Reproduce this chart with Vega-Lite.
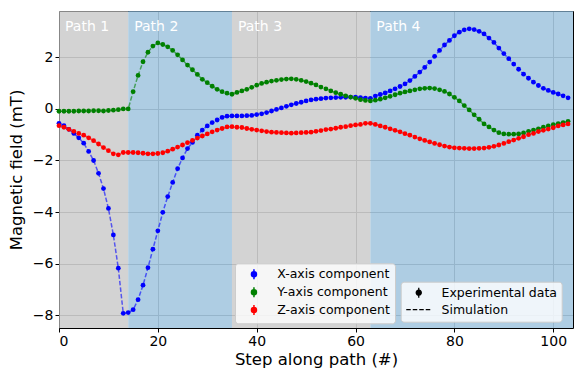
{
"$schema": "https://vega.github.io/schema/vega-lite/v6.json",
"width": 514, "height": 317,
"autosize": {"type": "none"},
"padding": {"left": 59, "top": 11, "right": 1, "bottom": 43},
"config": {
  "font": "DejaVu Sans",
  "view": {"stroke": null},
  "axis": {"domainColor": "#000000", "domainWidth": 1, "gridColor": "#b0b0b0", "gridWidth": 1, "tickColor": "#000000", "tickSize": 4, "tickWidth": 1, "labelFontSize": 14, "labelColor": "#000000", "labelFont": "DejaVu Sans", "titleFont": "DejaVu Sans", "titleFontSize": 16.5, "titleFontWeight": "normal", "titleColor": "#000000", "labelPadding": 2, "zindex": 1},
  "legend": {"labelFont": "DejaVu Sans", "labelFontSize": 12.5, "labelColor": "#000000", "fillColor": "rgba(255,255,255,0.8)", "strokeColor": "#cccccc", "cornerRadius": 3, "padding": 4.7, "zindex": 2}
},
"datasets": {
  "regions": [
    {"start": 0, "end": 14, "label": "Path 1", "kind": "gray"},
    {"start": 14, "end": 35, "label": "Path 2", "kind": "blue"},
    {"start": 35, "end": 63, "label": "Path 3", "kind": "gray"},
    {"start": 63, "end": 104, "label": "Path 4", "kind": "blue"}
  ],
  "field": [
    {"s":0,"X":-0.56,"Y":-0.09,"Z":-0.65},{"s":1,"X":-0.65,"Y":-0.09,"Z":-0.71},{"s":2,"X":-0.79,"Y":-0.09,"Z":-0.79},{"s":3,"X":-0.95,"Y":-0.09,"Z":-0.87},
    {"s":4,"X":-1.12,"Y":-0.08,"Z":-0.95},{"s":5,"X":-1.33,"Y":-0.08,"Z":-1.02},{"s":6,"X":-1.65,"Y":-0.08,"Z":-1.12},{"s":7,"X":-2.0,"Y":-0.07,"Z":-1.23},
    {"s":8,"X":-2.5,"Y":-0.07,"Z":-1.36},{"s":9,"X":-3.09,"Y":-0.08,"Z":-1.5},{"s":10,"X":-3.86,"Y":-0.06,"Z":-1.62},{"s":11,"X":-4.89,"Y":-0.05,"Z":-1.74},
    {"s":12,"X":-6.18,"Y":-0.03,"Z":-1.78},{"s":13,"X":-7.93,"Y":0.0,"Z":-1.69},{"s":14,"X":-7.9,"Y":0.0,"Z":-1.69},{"s":15,"X":-7.79,"Y":0.67,"Z":-1.69},
    {"s":16,"X":-7.4,"Y":1.3,"Z":-1.7},{"s":17,"X":-6.84,"Y":1.83,"Z":-1.72},{"s":18,"X":-6.16,"Y":2.2,"Z":-1.74},{"s":19,"X":-5.44,"Y":2.44,"Z":-1.74},
    {"s":20,"X":-4.73,"Y":2.56,"Z":-1.73},{"s":21,"X":-4.01,"Y":2.5,"Z":-1.7},{"s":22,"X":-3.4,"Y":2.41,"Z":-1.64},{"s":23,"X":-2.85,"Y":2.27,"Z":-1.56},
    {"s":24,"X":-2.32,"Y":2.1,"Z":-1.48},{"s":25,"X":-1.9,"Y":1.9,"Z":-1.4},{"s":26,"X":-1.54,"Y":1.7,"Z":-1.31},{"s":27,"X":-1.3,"Y":1.52,"Z":-1.22},
    {"s":28,"X":-1.02,"Y":1.34,"Z":-1.13},{"s":29,"X":-0.82,"Y":1.15,"Z":-1.05},{"s":30,"X":-0.66,"Y":1.02,"Z":-0.97},{"s":31,"X":-0.53,"Y":0.88,"Z":-0.89},
    {"s":32,"X":-0.43,"Y":0.76,"Z":-0.82},{"s":33,"X":-0.33,"Y":0.67,"Z":-0.76},{"s":34,"X":-0.28,"Y":0.61,"Z":-0.7},{"s":35,"X":-0.27,"Y":0.57,"Z":-0.69},
    {"s":36,"X":-0.27,"Y":0.64,"Z":-0.71},{"s":37,"X":-0.27,"Y":0.7,"Z":-0.72},{"s":38,"X":-0.26,"Y":0.76,"Z":-0.76},{"s":39,"X":-0.25,"Y":0.84,"Z":-0.79},
    {"s":40,"X":-0.22,"Y":0.92,"Z":-0.82},{"s":41,"X":-0.19,"Y":0.99,"Z":-0.85},{"s":42,"X":-0.14,"Y":1.04,"Z":-0.88},{"s":43,"X":-0.08,"Y":1.08,"Z":-0.9},
    {"s":44,"X":-0.02,"Y":1.11,"Z":-0.91},{"s":45,"X":0.04,"Y":1.14,"Z":-0.92},{"s":46,"X":0.1,"Y":1.16,"Z":-0.93},{"s":47,"X":0.16,"Y":1.17,"Z":-0.94},
    {"s":48,"X":0.21,"Y":1.15,"Z":-0.93},{"s":49,"X":0.26,"Y":1.11,"Z":-0.92},{"s":50,"X":0.31,"Y":1.06,"Z":-0.91},{"s":51,"X":0.35,"Y":1.0,"Z":-0.9},
    {"s":52,"X":0.38,"Y":0.93,"Z":-0.87},{"s":53,"X":0.4,"Y":0.85,"Z":-0.84},{"s":54,"X":0.42,"Y":0.78,"Z":-0.8},{"s":55,"X":0.43,"Y":0.7,"Z":-0.78},
    {"s":56,"X":0.44,"Y":0.63,"Z":-0.75},{"s":57,"X":0.45,"Y":0.57,"Z":-0.71},{"s":58,"X":0.45,"Y":0.51,"Z":-0.69},{"s":59,"X":0.46,"Y":0.46,"Z":-0.65},
    {"s":60,"X":0.46,"Y":0.41,"Z":-0.62},{"s":61,"X":0.44,"Y":0.36,"Z":-0.6},{"s":62,"X":0.42,"Y":0.33,"Z":-0.56},{"s":63,"X":0.41,"Y":0.31,"Z":-0.56},
    {"s":64,"X":0.5,"Y":0.34,"Z":-0.6},{"s":65,"X":0.56,"Y":0.38,"Z":-0.66},{"s":66,"X":0.62,"Y":0.43,"Z":-0.71},{"s":67,"X":0.7,"Y":0.49,"Z":-0.77},
    {"s":68,"X":0.78,"Y":0.55,"Z":-0.83},{"s":69,"X":0.87,"Y":0.61,"Z":-0.89},{"s":70,"X":0.97,"Y":0.66,"Z":-0.96},{"s":71,"X":1.1,"Y":0.7,"Z":-1.02},
    {"s":72,"X":1.26,"Y":0.74,"Z":-1.09},{"s":73,"X":1.43,"Y":0.78,"Z":-1.16},{"s":74,"X":1.61,"Y":0.8,"Z":-1.22},{"s":75,"X":1.82,"Y":0.81,"Z":-1.28},
    {"s":76,"X":2.04,"Y":0.79,"Z":-1.34},{"s":77,"X":2.27,"Y":0.74,"Z":-1.39},{"s":78,"X":2.48,"Y":0.68,"Z":-1.44},{"s":79,"X":2.66,"Y":0.58,"Z":-1.48},
    {"s":80,"X":2.84,"Y":0.45,"Z":-1.51},{"s":81,"X":2.98,"Y":0.31,"Z":-1.52},{"s":82,"X":3.07,"Y":0.13,"Z":-1.53},{"s":83,"X":3.11,"Y":-0.04,"Z":-1.54},
    {"s":84,"X":3.08,"Y":-0.23,"Z":-1.54},{"s":85,"X":3.01,"Y":-0.4,"Z":-1.53},{"s":86,"X":2.91,"Y":-0.58,"Z":-1.52},{"s":87,"X":2.75,"Y":-0.7,"Z":-1.49},
    {"s":88,"X":2.58,"Y":-0.82,"Z":-1.45},{"s":89,"X":2.36,"Y":-0.92,"Z":-1.4},{"s":90,"X":2.15,"Y":-0.97,"Z":-1.34},{"s":91,"X":1.95,"Y":-0.98,"Z":-1.27},
    {"s":92,"X":1.74,"Y":-0.98,"Z":-1.21},{"s":93,"X":1.54,"Y":-0.97,"Z":-1.14},{"s":94,"X":1.35,"Y":-0.93,"Z":-1.08},{"s":95,"X":1.19,"Y":-0.87,"Z":-1.0},
    {"s":96,"X":1.04,"Y":-0.82,"Z":-0.95},{"s":97,"X":0.91,"Y":-0.77,"Z":-0.88},{"s":98,"X":0.8,"Y":-0.71,"Z":-0.83},{"s":99,"X":0.72,"Y":-0.66,"Z":-0.78},
    {"s":100,"X":0.64,"Y":-0.61,"Z":-0.73},{"s":101,"X":0.58,"Y":-0.57,"Z":-0.66},{"s":102,"X":0.51,"Y":-0.53,"Z":-0.62},{"s":103,"X":0.43,"Y":-0.48,"Z":-0.58}
  ]
},
"layer": [
  {
    "layer": [
      {
        "data": {"name": "regions"},
        "mark": {"type": "rect", "opacity": 0.7},
        "encoding": {
          "x": {"field": "start", "type": "quantitative", "title": "Step along path (#)", "scale": {"domain": [0, 104], "nice": false, "zero": false},
                "axis": {"values": [0, 20, 40, 60, 80, 100], "grid": true, "domain": true, "titlePadding": 3}},
          "x2": {"field": "end"},
          "fill": {"field": "kind", "type": "nominal", "scale": {"domain": ["gray", "blue"], "range": ["#c0c0c0", "#8bb8d7"]}, "legend": null}
        }
      },
      {
        "data": {"name": "regions"},
        "mark": {"type": "text", "align": "left", "baseline": "middle", "dx": 6, "fontSize": 14, "color": "#ffffff", "font": "DejaVu Sans"},
        "encoding": {
          "x": {"field": "start", "type": "quantitative", "title": "Step along path (#)", "scale": {"domain": [0, 104], "nice": false, "zero": false}},
          "y": {"datum": 3.19, "type": "quantitative", "scale": {"domain": [-8.5, 3.8], "nice": false, "zero": false}},
          "text": {"field": "label"}
        }
      },
      {
        "data": {"name": "field"},
        "transform": [{"fold": ["X", "Y", "Z"], "as": ["comp", "B"]}],
        "mark": {"type": "line", "strokeWidth": 1.5, "strokeOpacity": 0.6},
        "encoding": {
          "x": {"field": "s", "type": "quantitative", "title": "Step along path (#)", "scale": {"domain": [0, 104], "nice": false, "zero": false}},
          "y": {"field": "B", "type": "quantitative", "title": "Magnetic field (mT)", "scale": {"domain": [-8.5, 3.8], "nice": false, "zero": false},
                "axis": {"values": [-8, -6, -4, -2, 0, 2], "grid": true, "domain": true, "titlePadding": 8}},
          "color": {"field": "comp", "type": "nominal", "scale": {"domain": ["X", "Y", "Z"], "range": ["#0000ff", "#008000", "#ff0000"]},
                    "legend": {"orient": "none", "legendX": 176, "legendY": 252.3, "title": null, "labelExpr": "datum.label + '-axis component'",
                               "symbolType": "M0,-1L0,1M0.5,0A0.5,0.5,0,1,1,-0.5,0A0.5,0.5,0,1,1,0.5,0Z", "symbolSize": 100, "symbolStrokeWidth": 1.5,
                               "symbolOpacity": 1, "symbolFillColor": {"expr": "scale('color', datum.value)"}, "symbolStrokeColor": {"expr": "scale('color', datum.value)"},
                               "symbolOffset": 8, "labelOffset": 17, "rowPadding": 0.9}},
          "strokeDash": {"datum": "Simulation", "scale": {"domain": ["Experimental data", "Simulation"], "range": [[1, 0], [4.5, 2]]},
                         "legend": {"orient": "none", "legendX": 341.7, "legendY": 270.7, "title": null, "symbolSize": 100, "symbolOffset": 7.1, "labelOffset": 16.5, "rowPadding": 2.9,
                                    "symbolOpacity": 1,
                                    "symbolType": {"expr": "datum.value === 'Simulation' ? 'M-2.5,0L2.5,0' : 'M0,-1L0,1M0.5,0A0.5,0.5,0,1,1,-0.5,0A0.5,0.5,0,1,1,0.5,0Z'"},
                                    "symbolFillColor": {"expr": "datum.value === 'Simulation' ? 'transparent' : '#000000'"},
                                    "symbolStrokeColor": {"expr": "'#000000'"},
                                    "symbolStrokeWidth": 1.3}},
          "detail": {"field": "comp"}
        }
      },
      {
        "data": {"name": "field"},
        "transform": [{"fold": ["X", "Y", "Z"], "as": ["comp", "B"]}],
        "mark": {"type": "point", "filled": true, "size": 23, "opacity": 1},
        "encoding": {
          "x": {"field": "s", "type": "quantitative", "title": "Step along path (#)", "scale": {"domain": [0, 104], "nice": false, "zero": false}},
          "y": {"field": "B", "type": "quantitative", "title": "Magnetic field (mT)", "scale": {"domain": [-8.5, 3.8], "nice": false, "zero": false}},
          "color": {"field": "comp", "type": "nominal"}
        }
      }
    ]
  },
  {
    "data": {"name": "field"},
    "mark": {"type": "point", "opacity": 0},
    "encoding": {
      "x": {"field": "s", "type": "quantitative", "scale": {"domain": [0, 104], "nice": false, "zero": false},
            "axis": {"orient": "top", "domain": true, "ticks": false, "labels": false, "grid": false, "title": null}},
      "y": {"field": "X", "type": "quantitative", "scale": {"domain": [-8.5, 3.8], "nice": false, "zero": false},
            "axis": {"orient": "right", "domain": true, "ticks": false, "labels": false, "grid": false, "title": null}}
    }
  }
],
"resolve": {"axis": {"x": "independent", "y": "independent"}}
}
